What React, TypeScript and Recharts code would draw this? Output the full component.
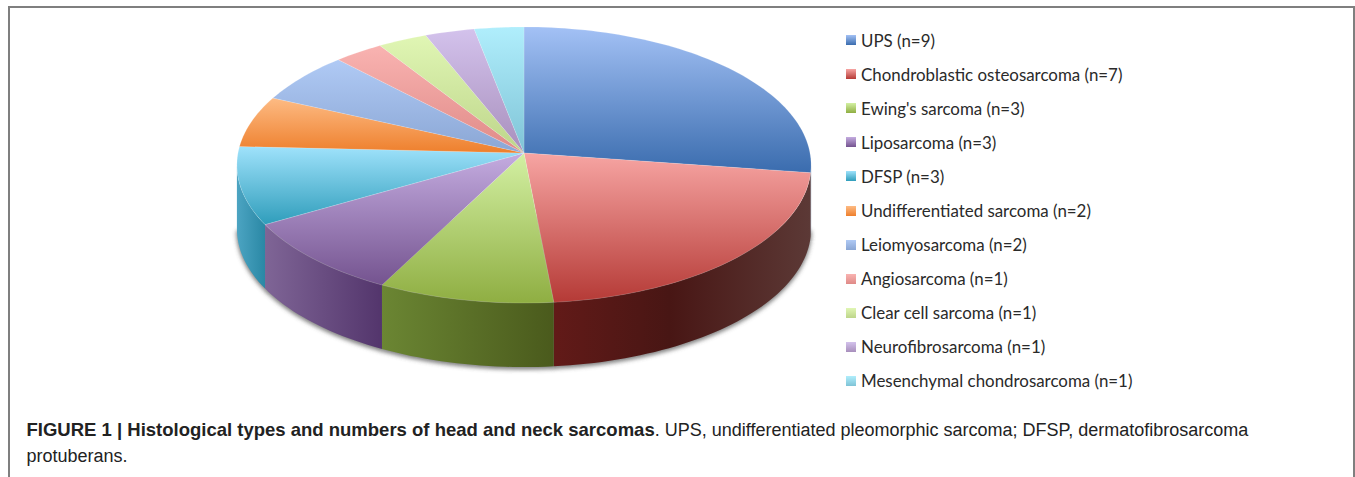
import { PieChart, Pie, Legend } from 'recharts';

const categories = [
  'UPS (n=9)',
  'Chondroblastic osteosarcoma (n=7)',
  "Ewing's sarcoma (n=3)",
  'Liposarcoma (n=3)',
  'DFSP (n=3)',
  'Undifferentiated sarcoma (n=2)',
  'Leiomyosarcoma (n=2)',
  'Angiosarcoma (n=1)',
  'Clear cell sarcoma (n=1)',
  'Neurofibrosarcoma (n=1)',
  'Mesenchymal chondrosarcoma (n=1)',
];
const counts = [9, 7, 3, 3, 3, 2, 2, 1, 1, 1, 1];

// top face gradient, light at the back to saturated at the front
const topLight = ['#a3c1f5', '#f7a5a3', '#d3f0a3', '#c4ace0', '#9fe2fb', '#fdbb84', '#b0caf5', '#f9b3b1', '#e0f6b4', '#d3c2ec', '#b0eefc'];
const topDark = ['#3a6cae', '#b53a36', '#8fae42', '#74538f', '#2f9dbb', '#ee7f2c', '#8aa6d4', '#df8a87', '#bdd58a', '#a88fbc', '#7fc3d6'];
// side wall gradient, left to right
const wallLeft = ['#37608f', '#621a18', '#6b8633', '#7f6596', '#4ca4c2', '#b5601f', '#6a84ad', '#a86a68', '#8da565', '#7f6a92', '#5a9aad'];
const wallRight = ['#2c4f78', '#5c3936', '#4a5a1c', '#53356c', '#2a88a5', '#8f4a15', '#55709a', '#8a5654', '#73874f', '#67547a', '#4a8293'];

const data = categories.map((name, i) => ({ name, value: counts[i], fill: topDark[i], idx: i }));

const W = 1355;
const H = 477;
const SQUASH = 137 / 286;
const TILT = 0.087;
const DEPTH = 64;
const RAD = Math.PI / 180;

// maps a flat pie angle to the tilted disc, with a little perspective
const project = (cx: number, cy: number, r: number, deg: number) => {
  const u = Math.cos(deg * RAD);
  const v = Math.sin(deg * RAD);
  const d = 1 + TILT * v;
  return [cx + (r * u) / d, cy - (r * SQUASH * v) / d];
};

const arcPoints = (cx: number, cy: number, r: number, from: number, to: number) => {
  const steps = Math.max(2, Math.ceil(Math.abs(to - from) / 1.5));
  const pts: number[][] = [];
  for (let i = 0; i <= steps; i++) {
    pts.push(project(cx, cy, r, from + ((to - from) * i) / steps));
  }
  return pts;
};

const TopFace = (props: any) => {
  const { cx, cy, outerRadius, startAngle, endAngle, idx } = props;
  const pts = arcPoints(cx, cy, outerRadius, startAngle, endAngle);
  const d = `M${cx},${cy}L` + pts.map((p) => `${p[0].toFixed(2)},${p[1].toFixed(2)}`).join('L') + 'Z';
  return <path d={d} fill={`url(#top${idx})`} stroke="#ffffff" strokeOpacity={0.25} strokeWidth={0.6} />;
};

const WallFace = (props: any) => {
  const { cx, cy, outerRadius, startAngle, endAngle, idx } = props;
  // only the front of the rim shows
  const from = Math.min(startAngle, -5);
  const to = Math.max(endAngle, -175);
  if (from <= to) return <g />;
  const pts = arcPoints(cx, cy, outerRadius, from, to);
  const lower = pts.map((p) => [p[0], p[1] + DEPTH]).reverse();
  const d = 'M' + [...pts, ...lower].map((p) => `${p[0].toFixed(2)},${p[1].toFixed(2)}`).join('L') + 'Z';
  return <path d={d} fill={`url(#wall${idx})`} />;
};

const ShadowFace = (props: any) => {
  const { cx, cy, outerRadius, startAngle, endAngle } = props;
  const from = Math.min(startAngle, -5);
  const to = Math.max(endAngle, -175);
  if (from <= to) return <g />;
  const pts = arcPoints(cx, cy, outerRadius, from, to).map((p) => [p[0], p[1] + DEPTH + 2]);
  const d = `M${cx},${cy + DEPTH}L` + pts.map((p) => `${p[0].toFixed(2)},${p[1].toFixed(2)}`).join('L') + 'Z';
  return <path d={d} fill="#555555" fillOpacity={0.75} stroke="#555555" strokeOpacity={0.75} filter="url(#pieShadow)" />;
};

const LegendList = () => (
  <div style={{ width: 320 }}>
    {categories.map((name, i) => (
      <div
        key={name}
        style={{ height: 34.1, display: 'flex', alignItems: 'center', fontFamily: 'Lato, sans-serif', fontSize: 16.9, color: '#2a2a2a', whiteSpace: 'nowrap' }}
      >
        <span
          style={{
            display: 'inline-block',
            width: 10,
            height: 10,
            marginRight: 5,
            background: `linear-gradient(${topLight[i]}, ${topDark[i]})`,
          }}
        />
        {name}
      </div>
    ))}
  </div>
);

const captionStyle = {
  position: 'absolute' as const,
  left: 26.5,
  fontFamily: '"Liberation Sans", sans-serif',
  fontSize: 18,
  color: '#222222',
  whiteSpace: 'nowrap' as const,
  margin: 0,
};

export default function App() {
  return (
    <div style={{ position: 'absolute', left: 0, top: 0, width: W, height: H, background: '#ffffff', overflow: 'hidden' }}>
      <div style={{ position: 'absolute', left: 8, top: 6, width: 1343, height: 480, border: '2px solid #7f7f7f' }} />
      <PieChart width={W} height={H} style={{ position: 'absolute', left: 0, top: 0 }} margin={{ top: 0, right: 0, bottom: 0, left: 0 }}>
        <defs>
          <filter id="pieShadow" x="-5%" y="-5%" width="110%" height="115%">
            <feGaussianBlur stdDeviation="2" />
          </filter>
          {categories.map((_, i) => (
            <linearGradient key={`top${i}`} id={`top${i}`} x1="0" y1="0" x2="0" y2="1">
              <stop offset="0%" stopColor={topLight[i]} />
              <stop offset="100%" stopColor={topDark[i]} />
            </linearGradient>
          ))}
          {categories.map((_, i) => (
            <linearGradient key={`wall${i}`} id={`wall${i}`} x1="0" y1="0" x2="1" y2="0">
              <stop offset="0%" stopColor={wallLeft[i]} />
              {i === 1 && <stop offset="45%" stopColor="#481614" />}
              <stop offset="100%" stopColor={wallRight[i]} />
            </linearGradient>
          ))}
        </defs>
        <Pie
          data={data}
          dataKey="value"
          nameKey="name"
          cx={524}
          cy={153}
          outerRadius={286}
          startAngle={90}
          endAngle={-270}
          stroke="none"
          legendType="none"
          shape={ShadowFace}
          isAnimationActive={false}
        />
        <Pie
          data={data}
          dataKey="value"
          nameKey="name"
          cx={524}
          cy={153}
          outerRadius={286}
          startAngle={90}
          endAngle={-270}
          stroke="none"
          legendType="none"
          shape={WallFace}
          isAnimationActive={false}
        />
        <Pie
          data={data}
          dataKey="value"
          nameKey="name"
          cx={524}
          cy={153}
          outerRadius={286}
          startAngle={90}
          endAngle={-270}
          stroke="none"
          shape={TopFace}
          isAnimationActive={false}
        />
        <Legend
          layout="vertical"
          align="right"
          verticalAlign="top"
          wrapperStyle={{ left: 846, top: 23, right: 'auto', width: 320 }}
          content={<LegendList />}
        />
      </PieChart>
      <p style={{ ...captionStyle, top: 419 }}>
        <b style={{ fontSize: 18.5 }}>FIGURE 1 | Histological types and numbers of head and neck sarcomas</b>. UPS, undifferentiated pleomorphic sarcoma; DFSP, dermatofibrosarcoma
      </p>
      <p style={{ ...captionStyle, top: 446 }}>protuberans.</p>
    </div>
  );
}
